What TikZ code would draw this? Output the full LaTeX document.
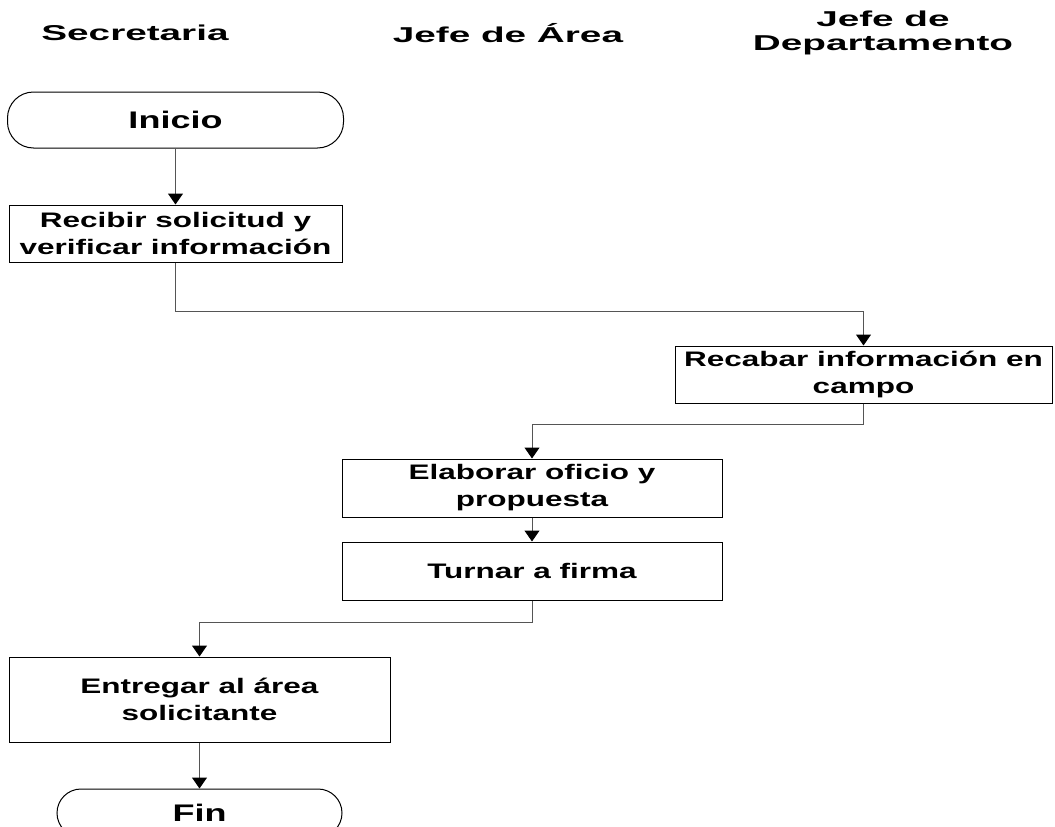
\documentclass[tikz,border=0pt]{standalone}
\usepackage{fontspec}
\usepackage{tikz}
\usetikzlibrary{arrows.meta}
\newfontfamily\headfont{Liberation Sans}[FakeStretch=1.8]
\newfontfamily\boxfont{Liberation Sans}[FakeStretch=1.5]
\definecolor{linegray}{RGB}{85,85,85}

\begin{document}
\begin{tikzpicture}[x=1pt,y=-1pt,
  head/.style={inner sep=0pt,align=center,font=\headfont\bfseries\fontsize{21.5}{24}\selectfont},
  proc/.style={draw=black,line width=1pt,rectangle,inner sep=0pt,align=center,
    font=\boxfont\bfseries\fontsize{21}{27}\selectfont},
  term/.style={proc,rounded corners=26pt,font=\boxfont\bfseries\fontsize{24}{27}\selectfont},
  flow/.style={draw=linegray,line width=1pt,-{Triangle[length=11pt,width=15pt,color=black]}}]
  \useasboundingbox (0,0) rectangle (1055,827);
  \clip (0,0) rectangle (1055,827);
  % lanes
  \node[head,anchor=base] (secr) at (135,40) {Secretaria};
  \node[head,anchor=base] (jarea) at (508,42) {Jefe de Área};
  \node[head] (jdepto) at (883,33) {Jefe de\\Departamento};
  % steps
  \node[term,minimum width=336pt,minimum height=56pt] (inicio) at (175.5,120) {Inicio};
  \node[proc,minimum width=333pt,minimum height=57pt] (recibir) at (175.5,233.5) {Recibir solicitud y\\verificar información};
  \node[proc,minimum width=377pt,minimum height=57pt] (recabar) at (863.5,374.5) {Recabar información en\\campo};
  \node[proc,minimum width=380pt,minimum height=58pt] (elaborar) at (532,488) {Elaborar oficio y\\propuesta};
  \node[proc,minimum width=380pt,minimum height=58pt] (turnar) at (532,571) {Turnar a firma};
  \node[proc,minimum width=381pt,minimum height=85pt] (entregar) at (199.5,699.5) {Entregar al área\\solicitante};
  \node[term,minimum width=285pt,minimum height=48pt,rounded corners=24pt] (fin) at (199.5,813) {Fin};
  % flow
  \draw[flow] (inicio.south) -- (recibir.north);
  \draw[flow] (recibir.south) -- ++(0,49) -| (recabar.north);
  \draw[flow] (recabar.south) -- ++(0,21) -| (elaborar.north);
  \draw[flow] (elaborar.south) -- (turnar.north);
  \draw[flow] (turnar.south) -- ++(0,22) -| (entregar.north);
  \draw[flow] (entregar.south) -- (fin.north);
\end{tikzpicture}
\end{document}
